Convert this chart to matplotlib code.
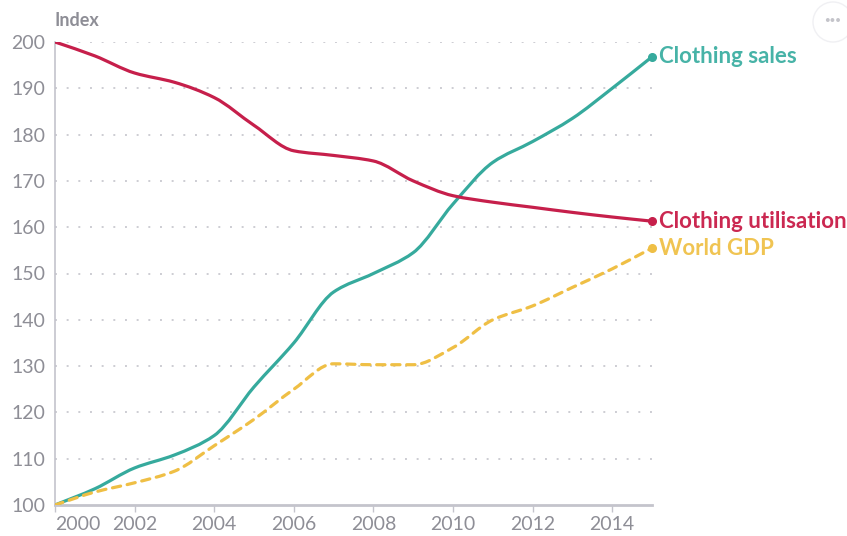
import numpy as np
import matplotlib
matplotlib.use("Agg")
import matplotlib.pyplot as plt
from matplotlib.path import Path
from matplotlib.patches import PathPatch, Circle

# Index values, 2000 = 100
years = list(range(2000, 2016))
clothing_sales = [100, 103.5, 108, 110.8, 115, 125.5, 135, 146, 150, 154.5,
                  165, 174, 178.5, 183.5, 190, 196.8]
clothing_utilisation = [200, 197, 193.3, 191.3, 188, 182, 176.5, 175.5, 174.3, 170,
                        166.8, 165.4, 164.3, 163.2, 162.2, 161.3]
world_gdp = [100, 102.8, 104.8, 107.3, 112.8, 118.5, 125, 130.5, 130.3, 130.3,
             134, 140, 143, 147, 151, 155.5]

y_ticks = [100, 110, 120, 130, 140, 150, 160, 170, 180, 190, 200]
x_ticks = [2000, 2002, 2004, 2006, 2008, 2010, 2012, 2014]

series = [
    ("Clothing sales", clothing_sales, "#36aa9d", "#47b3a7", "-"),
    ("Clothing utilisation", clothing_utilisation, "#c61f4b", "#cb2851", "-"),
    ("World GDP", world_gdp, "#efbf45", "#f0c452", (0, (2.6, 2.1))),
]

GRAY = "#8e8e96"
plt.rcParams["font.family"] = ["Lato", "DejaVu Sans"]


def monotone_path(x, y):
    """Monotone cubic (monotoneX style) curve as a Bezier path."""
    x = np.asarray(x, float)
    y = np.asarray(y, float)
    h = np.diff(x)
    d = np.diff(y) / h
    n = len(x)
    m = np.zeros(n)
    m[0], m[-1] = d[0], d[-1]
    for i in range(1, n - 1):
        if d[i - 1] * d[i] <= 0:
            m[i] = 0.0
        else:
            w1 = 2 * h[i] + h[i - 1]
            w2 = h[i] + 2 * h[i - 1]
            m[i] = (w1 + w2) / (w1 / d[i - 1] + w2 / d[i])
    verts = [(x[0], y[0])]
    codes = [Path.MOVETO]
    for i in range(n - 1):
        dx = h[i] / 3
        verts += [(x[i] + dx, y[i] + m[i] * dx),
                  (x[i + 1] - dx, y[i + 1] - m[i + 1] * dx),
                  (x[i + 1], y[i + 1])]
        codes += [Path.CURVE4] * 3
    return Path(verts, codes)


fig = plt.figure(figsize=(8.47, 5.36), dpi=100)
ax = fig.add_axes([55 / 847, 1 - 505 / 536, (652 - 55) / 847, (505 - 42) / 536])
ax.set_xlim(2000, 2015)
ax.set_ylim(100, 200)

# dotted horizontal gridlines
for v in y_ticks[1:]:
    ax.axhline(v, color="#cdcdd3", lw=1.4, ls=(0, (1, 5.0)), zorder=1)

for name, vals, col, lab_col, ls in series:
    patch = PathPatch(monotone_path(years, vals), facecolor="none", edgecolor=col,
                      lw=2.3, ls=ls, capstyle="round", zorder=3)
    ax.add_patch(patch)
    ax.plot(years[-1], vals[-1], "o", ms=5.5, color=col, zorder=4, clip_on=False)
    ax.annotate(name, (years[-1], vals[-1]), xytext=(5, 0), textcoords="offset points",
                ha="left", va="center", color=lab_col, fontsize=16,
                fontweight="bold", annotation_clip=False)

for s in ["top", "right"]:
    ax.spines[s].set_visible(False)
ax.spines["left"].set_color("#c4c4cc")
ax.spines["left"].set_linewidth(1.2)
ax.spines["bottom"].set_color("#c4c4cc")
ax.spines["bottom"].set_linewidth(2.0)

ax.set_yticks(y_ticks)
ax.set_yticklabels([str(v) for v in y_ticks])
ax.tick_params(axis="y", length=0, pad=7, labelsize=14, labelcolor=GRAY)

ax.set_xticks(x_ticks)
ax.set_xticklabels([str(v) for v in x_ticks])
ax.tick_params(axis="x", length=5, width=1, color="#c4c4cc", pad=3,
               labelsize=14, labelcolor=GRAY)
ax.get_xticklabels()[0].set_ha("left")

fig.text(55 / 847, 1 - 20 / 536, "Index", ha="left", va="center",
         fontsize=13, color=GRAY, fontweight="bold")

# menu button in the corner
fig.patches.append(Circle((8.33, 5.36 - 0.22), 0.2, transform=fig.dpi_scale_trans,
                          facecolor="white", edgecolor="#f0f0f3", lw=1.0))
fig.text(833 / 847, 1 - 20 / 536, "···", ha="center", va="center",
         fontsize=15, color="#c4c4ca", fontweight="bold")

fig.savefig("out.png", dpi=100, facecolor="white")
